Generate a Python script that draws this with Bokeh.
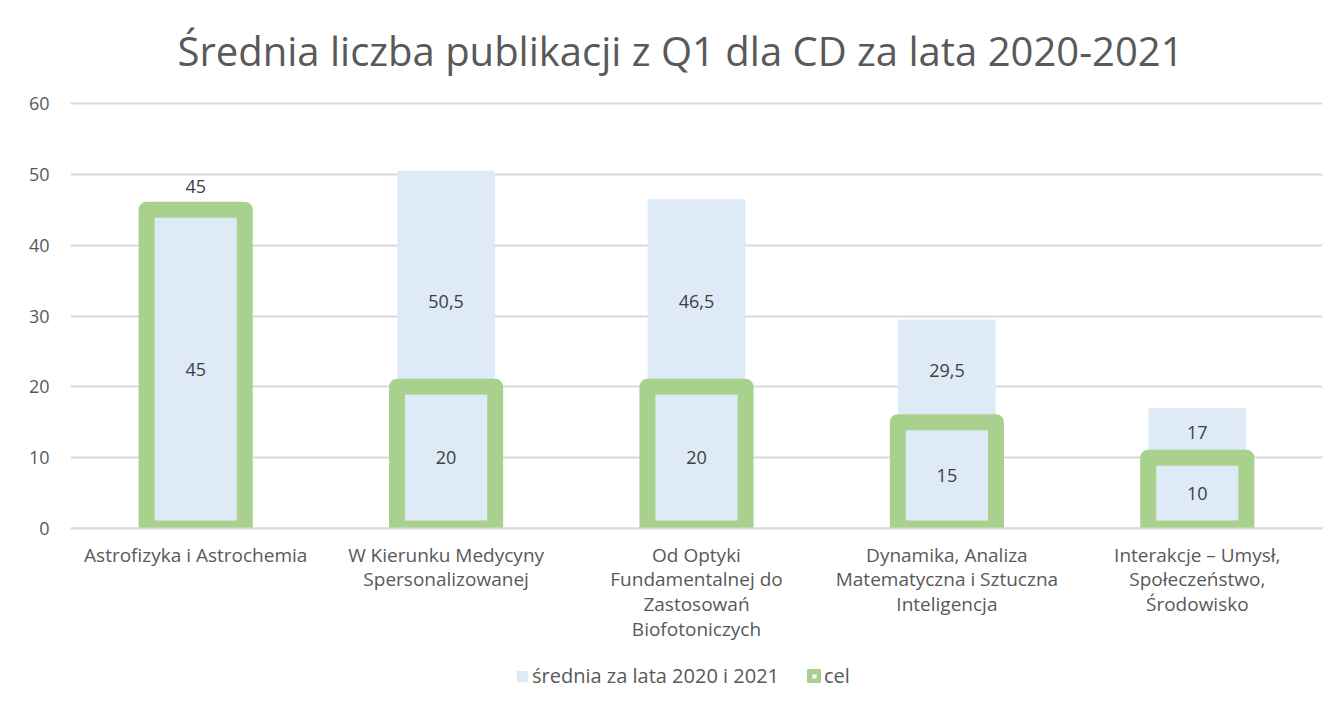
from bokeh.plotting import figure
from bokeh.models import (ColumnDataSource, Range1d, FactorRange, Legend, LegendItem,
                          BoxAnnotation, Span, Label)
from bokeh.core.properties import value
from bokeh.embed import file_html
from bokeh.resources import INLINE

categories = [
    "Astrofizyka i Astrochemia",
    "W Kierunku Medycyny Spersonalizowanej",
    "Od Optyki Fundamentalnej do Zastosowań Biofotoniczych",
    "Dynamika, Analiza Matematyczna i Sztuczna Inteligencja",
    "Interakcje – Umysł, Społeczeństwo, Środowisko",
]
tick_labels = [
    "Astrofizyka i Astrochemia",
    "W Kierunku Medycyny\nSpersonalizowanej",
    "Od Optyki\nFundamentalnej do\nZastosowań\nBiofotoniczych",
    "Dynamika, Analiza\nMatematyczna i Sztuczna\nInteligencja",
    "Interakcje – Umysł,\nSpołeczeństwo,\nŚrodowisko",
]
srednia = [45, 50.5, 46.5, 29.5, 17]
cel = [45, 20, 20, 15, 10]
y_ticks = [0, 10, 20, 30, 40, 50, 60]
y_max = 60

FONT = "Open Sans"
TXT = "#595959"
BLUE = "#DEEAF6"
GREEN = "#A9D18E"

# layout (pixels)
W, H = 1330, 697
LEFT, RIGHT = 70, 8
TOP_PX, ZERO_PX = 103, 528          # where 60 and 0 sit
TITLE_PX = 50                       # title anchor
PX = (ZERO_PX - TOP_PX) / y_max      # pixels per unit
y_lo = -(H - ZERO_PX) / PX
y_hi = y_max + TOP_PX / PX


def fmt(v):
    return f"{v:g}".replace(".", ",")


blue_label_y = [b / 2 if g >= b else min((g + b) / 2, g + 12) for b, g in zip(srednia, cel)]
green_label_y = [g if g >= b else g / 2 for b, g in zip(srednia, cel)]
green_label_off = [-23 if g >= b else 0 for b, g in zip(srednia, cel)]

src = ColumnDataSource(dict(
    cat=categories, tick=tick_labels, srednia=srednia, cel=cel,
    blab=[fmt(v) for v in srednia], glab=[fmt(v) for v in cel],
    by=blue_label_y, gy=green_label_y, goff=green_label_off,
    zero=[0] * len(categories),
))

p = figure(
    x_range=FactorRange(*categories), y_range=Range1d(y_lo, y_hi),
    frame_width=W - LEFT - RIGHT, frame_height=H, x_axis_location=None,
    output_backend="svg", toolbar_location=None,
    min_border_left=LEFT, min_border_right=RIGHT, min_border_top=0, min_border_bottom=0,
)
p.background_fill_color = "white"
p.border_fill_color = "white"
p.outline_line_color = None

blue_r = p.vbar(x="cat", top="srednia", width=0.39, source=src, fill_color=BLUE, line_color=None)
p.vbar(x="cat", top="cel", bottom=0, width=0.392, source=src, fill_alpha=0,
       line_color=GREEN, line_width=16, line_join="round")

# hide the part of the green outline below the axis, then redraw the zero line
p.add_layout(BoxAnnotation(top=0, fill_color="white", fill_alpha=1, line_color=None))
p.add_layout(Span(location=0, dimension="width", line_color="#D9D9D9", line_width=2))

p.text(x="cat", y="by", text="blab", source=src, text_align="center", text_baseline="middle",
       text_font=value(FONT), text_font_size="18px", text_color="#404040")
p.text(x="cat", y="gy", y_offset="goff", text="glab", source=src, text_align="center",
       text_baseline="middle", text_font=value(FONT), text_font_size="18px", text_color="#404040")

# category labels
xl = p.text(x="cat", y="zero", y_offset=13, text="tick", source=src, text_align="center",
            text_baseline="top", text_font=value(FONT), text_font_size="19px",
            text_color=TXT, text_line_height=0.95)
xl.level = "overlay"

# title
title = Label(x=610, x_units="screen", y=y_max + (TOP_PX - TITLE_PX) / PX, y_units="data",
              text="Średnia liczba publikacji z Q1 dla CD za lata 2020-2021",
              text_align="center", text_baseline="alphabetic", text_font=FONT,
              text_font_size="40px", text_color=TXT)
p.add_layout(title)

# legend-only swatch for "cel" (kept below the visible range)
lg = p.vbar(x="cat", bottom=y_lo - 20, top=y_lo - 10, width=0.3, source=src,
            fill_color="white", line_color=GREEN, line_width=7, line_join="round")

legend = Legend(items=[
    LegendItem(label="średnia za lata 2020 i 2021", renderers=[blue_r]),
    LegendItem(label="cel", renderers=[lg]),
], orientation="horizontal", location=(445, 8))
legend.glyph_width = 14
legend.glyph_height = 14
legend.label_text_font = FONT
legend.label_text_font_size = "20px"
legend.label_text_color = TXT
legend.label_standoff = 3
legend.spacing = 28
legend.border_line_color = None
legend.background_fill_alpha = 0
legend.padding = 0
legend.margin = 0
legend.level = "overlay"
p.add_layout(legend, "center")

p.xgrid.grid_line_color = None
p.ygrid.grid_line_color = "#D9D9D9"
p.ygrid.grid_line_width = 2

p.yaxis.ticker = y_ticks
p.yaxis.axis_line_color = None
p.yaxis.major_tick_line_color = None
p.yaxis.minor_tick_line_color = None
p.yaxis.major_label_text_font = FONT
p.yaxis.major_label_text_font_size = "18px"
p.yaxis.major_label_text_color = TXT
p.yaxis.major_label_standoff = 15

open("out.html", "w").write(file_html(p, INLINE))
